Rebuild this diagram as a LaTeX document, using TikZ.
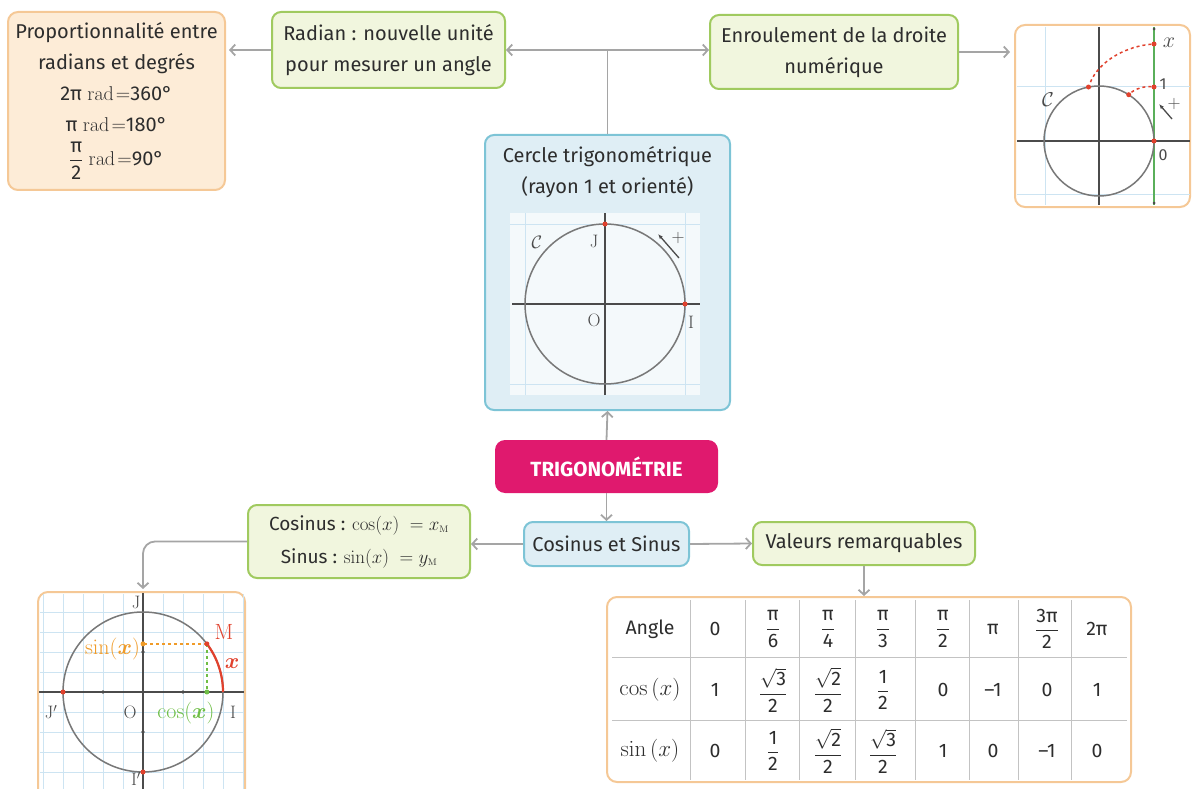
\RequirePackage{fix-cm}
\documentclass[tikz,border=0pt]{standalone}
\usepackage{amsmath}
\usepackage[no-math]{fontspec}
\setmainfont{Fira Sans}
\usetikzlibrary{arrows.meta}

\definecolor{orangeline}{RGB}{245,200,150}
\definecolor{orangefill}{RGB}{253,236,215}
\definecolor{greenline}{RGB}{160,202,95}
\definecolor{greenfill}{RGB}{241,246,222}
\definecolor{blueline}{RGB}{125,196,214}
\definecolor{bluefill}{RGB}{223,238,245}
\definecolor{trigorose}{RGB}{224,25,110}
\definecolor{linkgray}{RGB}{165,165,165}
\definecolor{gridblue}{RGB}{205,228,242}
\definecolor{axisgray}{RGB}{75,75,75}
\definecolor{circlegray}{RGB}{120,120,120}
\definecolor{pointred}{RGB}{225,65,45}
\definecolor{sinorange}{RGB}{240,155,40}
\definecolor{cosgreen}{RGB}{110,190,70}
\definecolor{droitegreen}{RGB}{90,175,90}
\definecolor{textgray}{RGB}{45,45,45}
\definecolor{tablegray}{RGB}{195,195,195}

\newcommand{\fracsf}[2]{$\dfrac{\text{#1}}{\text{#2}}$}
\newcommand{\racine}[1]{$\sqrt{\text{#1}}$}

\tikzset{
  boxtext/.style={font=\fontsize{20}{31}\selectfont, text=textgray, align=center, inner sep=0pt},
  greenbox/.style={draw=greenline, fill=greenfill, line width=2pt, rounded corners=9pt, boxtext},
  bluebox/.style={draw=blueline, fill=bluefill, line width=2pt, rounded corners=9pt, boxtext},
  orangebox/.style={draw=orangeline, fill=orangefill, line width=2pt, rounded corners=10pt, boxtext},
  figbox/.style={draw=orangeline, fill=white, line width=2pt, rounded corners=10pt, inner sep=0pt},
  trigobox/.style={fill=trigorose, rounded corners=10pt, text=white, font=\fontsize{20.5}{24}\selectfont\bfseries, inner sep=0pt},
  link/.style={draw=linkgray, line width=1.8pt, -{Straight Barb[length=5pt,width=11pt]}},
  linkline/.style={draw=linkgray, line width=1.8pt},
  lbl/.style={font=\fontsize{18}{20}\selectfont, text=axisgray, inner sep=0pt},
  biglbl/.style={font=\fontsize{22}{24}\selectfont, inner sep=0pt},
  celltext/.style={font=\fontsize{19.5}{22}\selectfont, text=textgray, inner sep=0pt},
  redpt/.style={circle, fill=pointred, inner sep=0pt, minimum size=5pt},
  axe/.style={draw=axisgray, line width=1.5pt},
  cercleligne/.style={draw=circlegray, line width=1.5pt},
  grille/.style={draw=gridblue, line width=1pt},
  sens/.style={draw=axisgray, line width=1.3pt, -{Latex[length=5pt,width=4pt]}},
}

\begin{document}
\begin{tikzpicture}[x=1pt,y=-1pt]
  \useasboundingbox (0,0) rectangle (1192,789);
  \clip (0,0) rectangle (1192,789);

  % boites
  \node[orangebox, minimum width=217pt, minimum height=178pt] (prop) at (116.5,101)
    {Proportionnalité entre\\radians et degrés\\2π~$\mathrm{rad}\!=$360°\\π~$\mathrm{rad}\!=$180°\\[3pt]\fracsf{π}{2}~$\mathrm{rad}\!=$90°};
  \node[greenbox, minimum width=233pt, minimum height=76pt] (radian) at (388.5,50)
    {Radian : nouvelle unité\\pour mesurer un angle};
  \node[greenbox, minimum width=248pt, minimum height=74pt] (enroul) at (834,52)
    {Enroulement de la droite\\numérique};
  \node[figbox, minimum width=175pt, minimum height=182pt] (droite) at (1102.5,116) {};
  \node[bluebox, minimum width=245pt, minimum height=275pt] (cercle) at (607.5,272.5) {};
  \node[boxtext] (cercletitre) at (607.5,172) {Cercle trigonométrique\\(rayon 1 et orienté)};
  \node[trigobox, minimum width=223pt, minimum height=53pt] (trigo) at (606.5,466.5) {TRIGONOMÉTRIE};
  \node[bluebox, minimum width=165pt, minimum height=44pt] (cossin) at (606.5,544) {Cosinus et Sinus};
  \node[greenbox, minimum width=222pt, minimum height=73pt, font=\fontsize{19}{33}\selectfont] (formules) at (359,541.5)
    {Cosinus : $\cos(x)\;=x_{\scriptscriptstyle\mathrm{M}}$\\Sinus : $\sin(x)\;=y_{\scriptscriptstyle\mathrm{M}}$};
  \node[greenbox, minimum width=222pt, minimum height=43pt] (valeurs) at (864,543.5) {Valeurs remarquables};
  \node[figbox, minimum width=207pt, minimum height=210pt] (unite) at (141.5,697) {};
  \node[figbox, minimum width=524pt, minimum height=185pt] (tableau) at (869,689.5) {};

  % cercle trigonometrique
  \begin{scope}[shift={(605,304)}, yscale=-1]
    \fill[white!65!bluefill] (-95,-91) rectangle (95,91);
    \draw[grille] (-80,-91) -- (-80,91);
    \draw[grille] (80,-91) -- (80,91);
    \draw[grille] (-95,80) -- (95,80);
    \draw[grille] (-95,-80) -- (95,-80);
    \draw[axe] (-93,0) -- (95,0);
    \draw[axe] (0,-91) -- (0,91);
    \draw[cercleligne] (0,0) circle[radius=80];
    \node[redpt] (J1) at (0,80) {};
    \node[redpt] (I1) at (80,0) {};
    \node[lbl] (C1) at (-68,62) {$\mathcal{C}$};
    \node[lbl] (lJ1) at (-11,63) {$\mathrm{J}$};
    \node[lbl] (lO1) at (-11,-16) {$\mathrm{O}$};
    \node[lbl] (lI1) at (86,-18) {$\mathrm{I}$};
    \coordinate (sensdeb1) at (74,46);
    \coordinate (sensfin1) at (53,70);
    \draw[sens] (sensdeb1) -- (sensfin1);
    \node[lbl] (plus1) at (73,66) {$+$};
  \end{scope}

  % enroulement de la droite
  \begin{scope}[shift={(1099,141)}, yscale=-1]
    \draw[grille] (-54,114) -- (-54,-64);
    \draw[grille] (-82,54) -- (91,54);
    \draw[grille] (-82,-54) -- (91,-54);
    \draw[axe] (-82,0) -- (91,0);
    \draw[axe] (0,114) -- (0,-64);
    \draw[draw=droitegreen, line width=1.5pt] (55,114) -- (55,-64);
    \fill[axisgray] (55,112) circle[radius=1.5];
    \fill[axisgray] (55,-62) circle[radius=1.5];
    \draw[cercleligne] (0,0) circle[radius=55];
    \node[redpt] (zero2) at (55,0) {};
    \node[redpt] (un2) at (55,54) {};
    \node[redpt] (x2) at (55,97) {};
    \node[redpt] (mun2) at (57.3:55) {};
    \node[redpt] (mx2) at (101:55) {};
    \draw[pointred, dashed, line width=1.5pt] (un2) .. controls (45,55) and (36,52) .. (mun2);
    \draw[pointred, dashed, line width=1.5pt] (x2) .. controls (30,95) and (0,82) .. (mx2);
    \node[lbl, font=\fontsize{22}{24}\selectfont] (lx2) at (70,98) {$x$};
    \node[lbl, font=\fontsize{16}{18}\selectfont] (lun2) at (64,57) {1};
    \node[lbl, font=\fontsize{16}{18}\selectfont] (lzero2) at (64,-14) {0};
    \node[lbl, font=\fontsize{20}{22}\selectfont] (C2) at (-51,41) {$\mathcal{C}$};
    \coordinate (sensdeb2) at (73,22);
    \coordinate (sensfin2) at (60,37);
    \draw[sens] (sensdeb2) -- (sensfin2);
    \node[lbl] (plus2) at (75,37) {$+$};
  \end{scope}

  % cosinus et sinus sur le cercle
  \begin{scope}[shift={(143,692)}, yscale=-1]
    \foreach \gx in {-100,-80,...,100}
      \draw[grille] (\gx,98) -- (\gx,-98);
    \foreach \gy in {-80,-60,...,80}
      \draw[grille] (-103,\gy) -- (100,\gy);
    \draw[axe] (-104,0) -- (101,0);
    \draw[axe] (0,99) -- (0,-98);
    \fill[axisgray] (40,0) circle[radius=1.8];
    \fill[axisgray] (-40,0) circle[radius=1.8];
    \fill[axisgray] (0,40) circle[radius=1.8];
    \fill[axisgray] (0,-40) circle[radius=1.8];
    \draw[cercleligne] (0,0) circle[radius=80];
    \coordinate (O3) at (0,0);
    \coordinate (M3) at (37:80);
    \coordinate (sinpt) at (O3 |- M3);
    \coordinate (cospt) at (O3 -| M3);
    \draw[pointred, line width=2.2pt] (80,0) arc[start angle=0, end angle=37, radius=80];
    \draw[sinorange, dashed, line width=1.5pt] (M3) -- (sinpt);
    \draw[cosgreen, dashed, line width=1.5pt] (M3) -- (cospt);
    \fill[sinorange] (sinpt) circle[radius=2.5];
    \fill[cosgreen] (cospt) circle[radius=2.5];
    \node[redpt] (ptM) at (M3) {};
    \node[redpt] (ptJp) at (-80,0) {};
    \node[redpt] (ptIp) at (0,-80) {};
    \node[lbl] (lJ3) at (-7,90) {$\mathrm{J}$};
    \node[lbl] (lJp3) at (-92,-20) {$\mathrm{J'}$};
    \node[lbl] (lO3) at (-13,-20) {$\mathrm{O}$};
    \node[lbl] (lI3) at (90,-20) {$\mathrm{I}$};
    \node[lbl] (lIp3) at (-7,-87) {$\mathrm{I'}$};
    \node[biglbl, text=pointred] (lM3) at (81,60) {$\mathrm{M}$};
    \node[biglbl, text=pointred] (lx3) at (89,28) {$\boldsymbol{x}$};
    \node[biglbl, text=sinorange, anchor=east] (lsin3) at (-3,43) {$\sin(\boldsymbol{x})$};
    \node[biglbl, text=cosgreen] (lcos3) at (43,-21) {$\cos(\boldsymbol{x})$};
  \end{scope}

  % tableau des valeurs
  \draw[tablegray] (690,600) -- (690,780);
  \draw[tablegray] (745,600) -- (745,780);
  \draw[tablegray] (799,600) -- (799,780);
  \draw[tablegray] (855,600) -- (855,780);
  \draw[tablegray] (915,600) -- (915,780);
  \draw[tablegray] (969,600) -- (969,780);
  \draw[tablegray] (1018,600) -- (1018,780);
  \draw[tablegray] (1071,600) -- (1071,780);
  \draw[tablegray] (612,657) -- (1127,657);
  \draw[tablegray] (612,720) -- (1127,720);

  \foreach \cx/\val [count=\i] in {650/Angle, 715/0, 773/{\fracsf{π}{6}}, 828/{\fracsf{π}{4}},
      883/{\fracsf{π}{3}}, 943/{\fracsf{π}{2}}, 993/π, 1047/{\fracsf{3π}{2}}, 1097/2π}
    \node[celltext] (angle\i) at (\cx,629) {\val};
  \foreach \cx/\val [count=\i] in {650/{\fontsize{23}{24}\selectfont$\cos\,(x)$}, 715/1, 773/{\fracsf{\racine{3}}{2}}, 828/{\fracsf{\racine{2}}{2}},
      883/{\fracsf{1}{2}}, 943/0, 993/–1, 1047/0, 1097/1}
    \node[celltext] (cos\i) at (\cx,690) {\val};
  \foreach \cx/\val [count=\i] in {650/{\fontsize{23}{24}\selectfont$\sin\,(x)$}, 715/0, 773/{\fracsf{1}{2}}, 828/{\fracsf{\racine{2}}{2}},
      883/{\fracsf{\racine{3}}{2}}, 943/1, 993/0, 1047/–1, 1097/0}
    \node[celltext] (sin\i) at (\cx,751) {\val};

  % liaisons
  \coordinate (jonction) at (cercle.north |- radian.east);
  \draw[linkline] (cercle.north) -- (jonction);
  \draw[link] (jonction) -- (radian.east);
  \draw[link] (jonction) -- (enroul.west |- jonction);
  \draw[link, shorten >=3pt] (radian.west) -- (prop.east |- radian.west);
  \draw[link, shorten >=4pt] (enroul.east) -- (droite.west |- enroul.east);
  \draw[link] (trigo.north) -- (cercle.south);
  \draw[link] (trigo.south) -- (cossin.north);
  \draw[link] (cossin.west) -- (formules.east |- cossin.west);
  \draw[link] (cossin.east) -- (valeurs.west);
  \draw[link] (valeurs.south) -- (valeurs.south |- tableau.north);
  \draw[link, rounded corners=12pt, shorten >=2pt] (formules.west) -| (unite.north -| O3);

\end{tikzpicture}
\end{document}
